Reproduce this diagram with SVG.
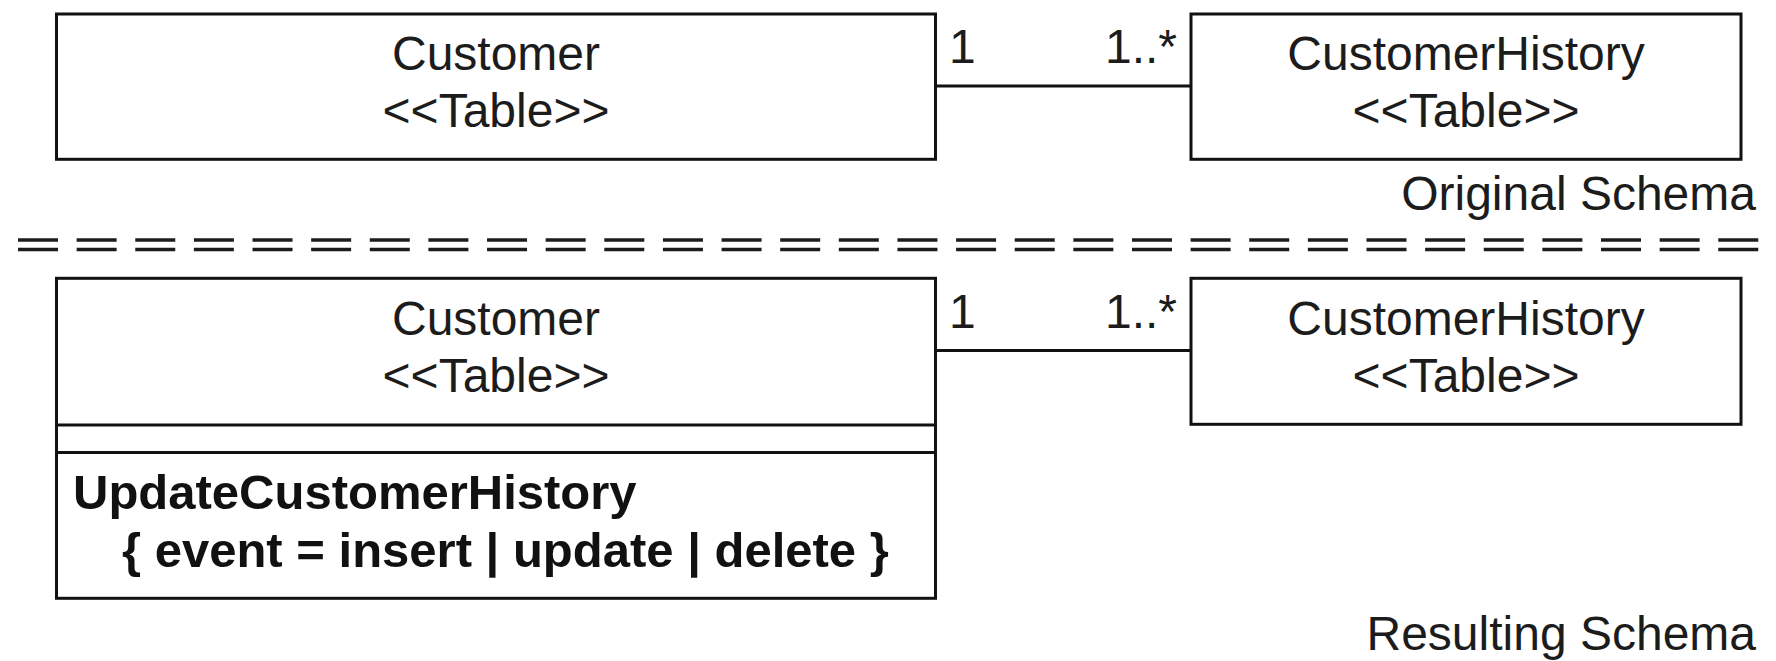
<svg xmlns="http://www.w3.org/2000/svg" width="1776" height="661" viewBox="0 0 1776 661">
  <style>
    .box { fill: #ffffff; stroke: #111111; stroke-width: 3; }
    .sep { stroke: #111111; stroke-width: 3; }
    .assoc { stroke: #111111; stroke-width: 3; fill: none; }
    .t { font-family: "Liberation Sans", Arial, sans-serif; font-size: 48px; fill: #1c1c1c; }
    .c { text-anchor: middle; }
    .e { text-anchor: end; }
    .b { font-weight: bold; font-size: 49px; fill: #111111; }
    .divider { stroke: #1c1c1c; stroke-width: 3.5; stroke-dasharray: 40 18.63; fill: none; }
  </style>
  <rect width="1776" height="661" fill="#ffffff"/>

  <!-- Original schema -->
  <g id="customer-original">
    <rect class="box" x="56.5" y="14" width="879" height="145.3"/>
    <text class="t c" x="496" y="70">Customer</text>
    <text class="t c" x="496" y="127">&lt;&lt;Table&gt;&gt;</text>
  </g>
  <g id="history-original">
    <rect class="box" x="1191" y="14" width="550" height="145.3"/>
    <text class="t c" x="1466" y="70">CustomerHistory</text>
    <text class="t c" x="1466" y="127">&lt;&lt;Table&gt;&gt;</text>
  </g>
  <text id="label-original" class="t e" x="1756" y="210">Original Schema</text>

  <!-- Double dashed divider between the two schemas -->
  <g id="divider">
    <line class="divider" x1="18" y1="240" x2="1776" y2="240"/>
    <line class="divider" x1="18" y1="249.5" x2="1776" y2="249.5"/>
  </g>

  <!-- Resulting schema -->
  <g id="customer-resulting">
    <rect class="box" x="56.5" y="278.3" width="879" height="320"/>
    <line class="sep" x1="56.5" y1="425" x2="935.5" y2="425"/>
    <line class="sep" x1="56.5" y1="452.5" x2="935.5" y2="452.5"/>
    <text class="t c" x="496" y="334.5">Customer</text>
    <text class="t c" x="496" y="391.5">&lt;&lt;Table&gt;&gt;</text>
    <text class="t b" x="73" y="508.5">UpdateCustomerHistory</text>
    <text class="t b" x="122" y="566.5">{ event = insert | update | delete }</text>
  </g>
  <g id="history-resulting">
    <rect class="box" x="1191" y="278.3" width="550" height="146"/>
    <text class="t c" x="1466" y="334.5">CustomerHistory</text>
    <text class="t c" x="1466" y="391.5">&lt;&lt;Table&gt;&gt;</text>
  </g>
  <text id="label-resulting" class="t e" x="1756" y="650">Resulting Schema</text>

  <!-- Associations with multiplicities -->
  <g id="connectors">
    <line class="assoc" x1="935.5" y1="86" x2="1191" y2="86"/>
    <text class="t" x="949" y="63">1</text>
    <text class="t e" x="1177" y="63">1..*</text>
    <line class="assoc" x1="935.5" y1="350.5" x2="1191" y2="350.5"/>
    <text class="t" x="949" y="328">1</text>
    <text class="t e" x="1177" y="328">1..*</text>
  </g>
</svg>
